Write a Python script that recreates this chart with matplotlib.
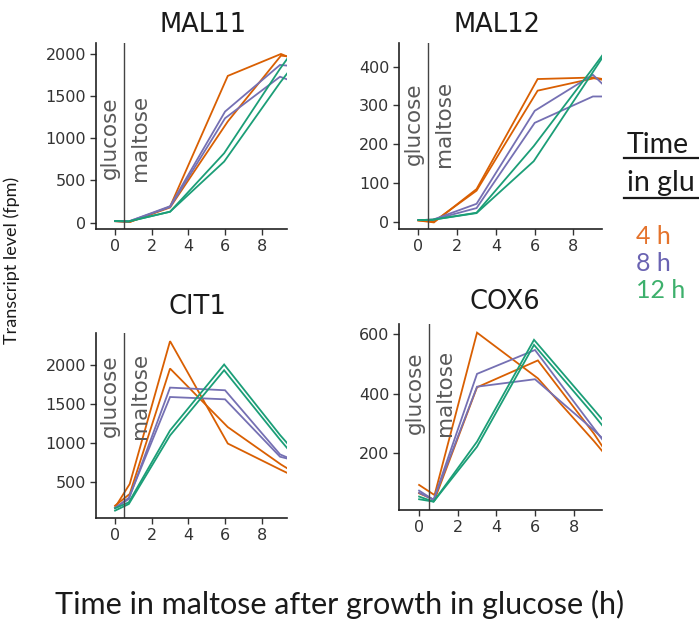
import matplotlib
matplotlib.use("Agg")
import matplotlib.pyplot as plt
from matplotlib.lines import Line2D
from matplotlib.transforms import offset_copy

W, H = 699, 624
fig = plt.figure(figsize=(W / 100, H / 100), dpi=100)

# ---------------- data ----------------
GENES = ["MAL11", "MAL12", "CIT1", "COX6"]
GROUPS = ["4 h", "8 h", "12 h"]
LINE_COLORS = ["#D95F02", "#7570B3", "#1B9E77"]
LEGEND_COLORS = ["#E4732C", "#6A63B2", "#3DB06C"]

T_4H = [0, 0.8, 3, 6.15, 9.05, 9.5]
T_8H = [0, 0.75, 3, 6.0, 9.0, 9.5]
T_12H = [0, 0.75, 3, 5.95, 9.0, 9.5]

MAL11_4H = [[18, 8, 190, 1740, 2000, 1960], [18, 8, 180, 1200, 1980, 1970]]
MAL11_8H = [[18, 15, 195, 1317, 1870, 1860], [18, 15, 185, 1238, 1730, 1690]]
MAL11_12H = [[20, 15, 130, 823, 1825, 1975], [20, 15, 130, 724, 1660, 1800]]

MAL12_4H = [[3, -2, 84, 368, 372, 368], [3, 0, 80, 338, 370, 366]]
MAL12_8H = [[4, 5, 46, 286, 379, 355], [4, 5, 35, 255, 323, 323]]
MAL12_12H = [[4, 5, 23, 195, 396, 430], [4, 5, 22, 156, 386, 424]]

CIT1_4H = [[167, 469, 2310, 990, 650, 599], [189, 340, 1957, 1202, 720, 655]]
CIT1_8H = [[160, 275, 1711, 1677, 850, 800], [160, 290, 1590, 1560, 820, 790]]
CIT1_12H = [[155, 232, 1159, 2009, 1100, 965], [125, 210, 1094, 1935, 1040, 900]]

COX6_4H = [[94, 60, 604, 451, 241, 206], [66, 44, 421, 511, 266, 222]]
COX6_8H = [[75, 44, 466, 546, 288, 245], [68, 44, 423, 448, 280, 250]]
COX6_12H = [[55, 38, 239, 580, 350, 312], [46, 38, 222, 563, 332, 292]]

SERIES = {
    "MAL11": [MAL11_4H, MAL11_8H, MAL11_12H],
    "MAL12": [MAL12_4H, MAL12_8H, MAL12_12H],
    "CIT1": [CIT1_4H, CIT1_8H, CIT1_12H],
    "COX6": [COX6_4H, COX6_8H, COX6_12H],
}
TIMES = [T_4H, T_8H, T_12H]

X_TICKS = [0, 2, 4, 6, 8]
Y_TICKS = {
    "MAL11": [0, 500, 1000, 1500, 2000],
    "MAL12": [0, 100, 200, 300, 400],
    "CIT1": [500, 1000, 1500, 2000],
    "COX6": [200, 400, 600],
}
Y_LIMS = {
    "MAL11": (-75, 2130),
    "MAL12": (-19, 461),
    "CIT1": (30, 2415),
    "COX6": (10, 633),
}
X_LIMS = {
    "MAL11": (-1.04, 9.38),
    "MAL12": (-1.0, 9.47),
    "CIT1": (-1.04, 9.38),
    "COX6": (-1.04, 9.47),
}
LABEL_Y = {"MAL11": 1005, "MAL12": 252, "CIT1": 1600, "COX6": 402}

# ---------------- layout (pixels) ----------------
PANELS = {  # left, right, top, bottom
    "MAL11": (96, 287, 43, 229),
    "MAL12": (399, 602, 43, 229),
    "CIT1": (96, 287, 333, 518),
    "COX6": (399, 602, 324, 510),
}
TITLE_POS = {"MAL11": (203, 25), "MAL12": (497, 25), "CIT1": (197, 307), "COX6": (505, 302)}

TICK_FONT = "DejaVu Sans"
LABEL_FONT = ["Lato", "DejaVu Sans"]

for gene in GENES:
    l, r, t, b = PANELS[gene]
    ax = fig.add_axes([l / W, 1 - b / H, (r - l) / W, (b - t) / H])
    for times, color, reps in zip(TIMES, LINE_COLORS, SERIES[gene]):
        for vals in reps:
            ax.plot(times, vals, color=color, lw=1.3, solid_joinstyle="miter")
    ax.axvline(0.5, color="#444444", lw=1.0)
    ax.set_xlim(*X_LIMS[gene])
    ax.set_ylim(*Y_LIMS[gene])
    ax.set_xticks(X_TICKS)
    ax.set_yticks(Y_TICKS[gene])
    ax.set_xticklabels([str(v) for v in X_TICKS])
    ax.set_yticklabels([str(v) for v in Y_TICKS[gene]])
    for side in ("top", "right"):
        ax.spines[side].set_visible(False)
    for side in ("left", "bottom"):
        ax.spines[side].set_color("#222222")
        ax.spines[side].set_linewidth(1.2)
    ax.tick_params(axis="both", direction="out", length=4, width=1.0, color="#333333",
                   labelcolor="#333333", labelsize=11.5, pad=3)
    for lab in ax.get_xticklabels() + ax.get_yticklabels():
        lab.set_family(TICK_FONT)
    ax.set_facecolor("none")
    # glucose / maltose annotations
    tr_g = offset_copy(ax.transData, fig=fig, x=-4, y=0, units="dots")
    tr_m = offset_copy(ax.transData, fig=fig, x=6, y=0, units="dots")
    ax.text(0.5, LABEL_Y[gene], "glucose", rotation=90, ha="right", va="center",
            fontsize=15.5, color="#595959", family=TICK_FONT, transform=tr_g)
    ax.text(0.5, LABEL_Y[gene], "maltose", rotation=90, ha="left", va="center",
            fontsize=15.5, color="#595959", family=TICK_FONT, transform=tr_m)
    tx, ty = TITLE_POS[gene]
    fig.text(tx / W, 1 - ty / H, gene, ha="center", va="center", fontsize=18.5,
             color="#1a1a1a", family=TICK_FONT)

# axis labels
fig.text(12 / W, 1 - 260 / H, "Transcript level (fpm)", rotation=90, ha="center",
         va="center", fontsize=13, color="#1a1a1a", family=LABEL_FONT)
fig.text(340 / W, 1 - 604 / H, "Time in maltose after growth in glucose (h)",
         ha="center", va="center", fontsize=22, color="#1a1a1a", family=LABEL_FONT)

# legend
fig.text(627 / W, 1 - 145 / H, "Time", ha="left", va="center", fontsize=20.5,
         color="#1a1a1a", family=LABEL_FONT)
fig.text(627 / W, 1 - 183 / H, "in glu", ha="left", va="center", fontsize=20.5,
         color="#1a1a1a", family=LABEL_FONT)
for yy in (158, 198):
    fig.add_artist(Line2D([624 / W, 1.0], [1 - yy / H, 1 - yy / H], color="#1a1a1a",
                          lw=1.6, transform=fig.transFigure))
for i, (g, c) in enumerate(zip(GROUPS, LEGEND_COLORS)):
    fig.text(636 / W, 1 - (237 + 26.5 * i) / H, g, ha="left", va="center",
             fontsize=18, color=c, family=LABEL_FONT)

fig.savefig("out.png", dpi=100)
